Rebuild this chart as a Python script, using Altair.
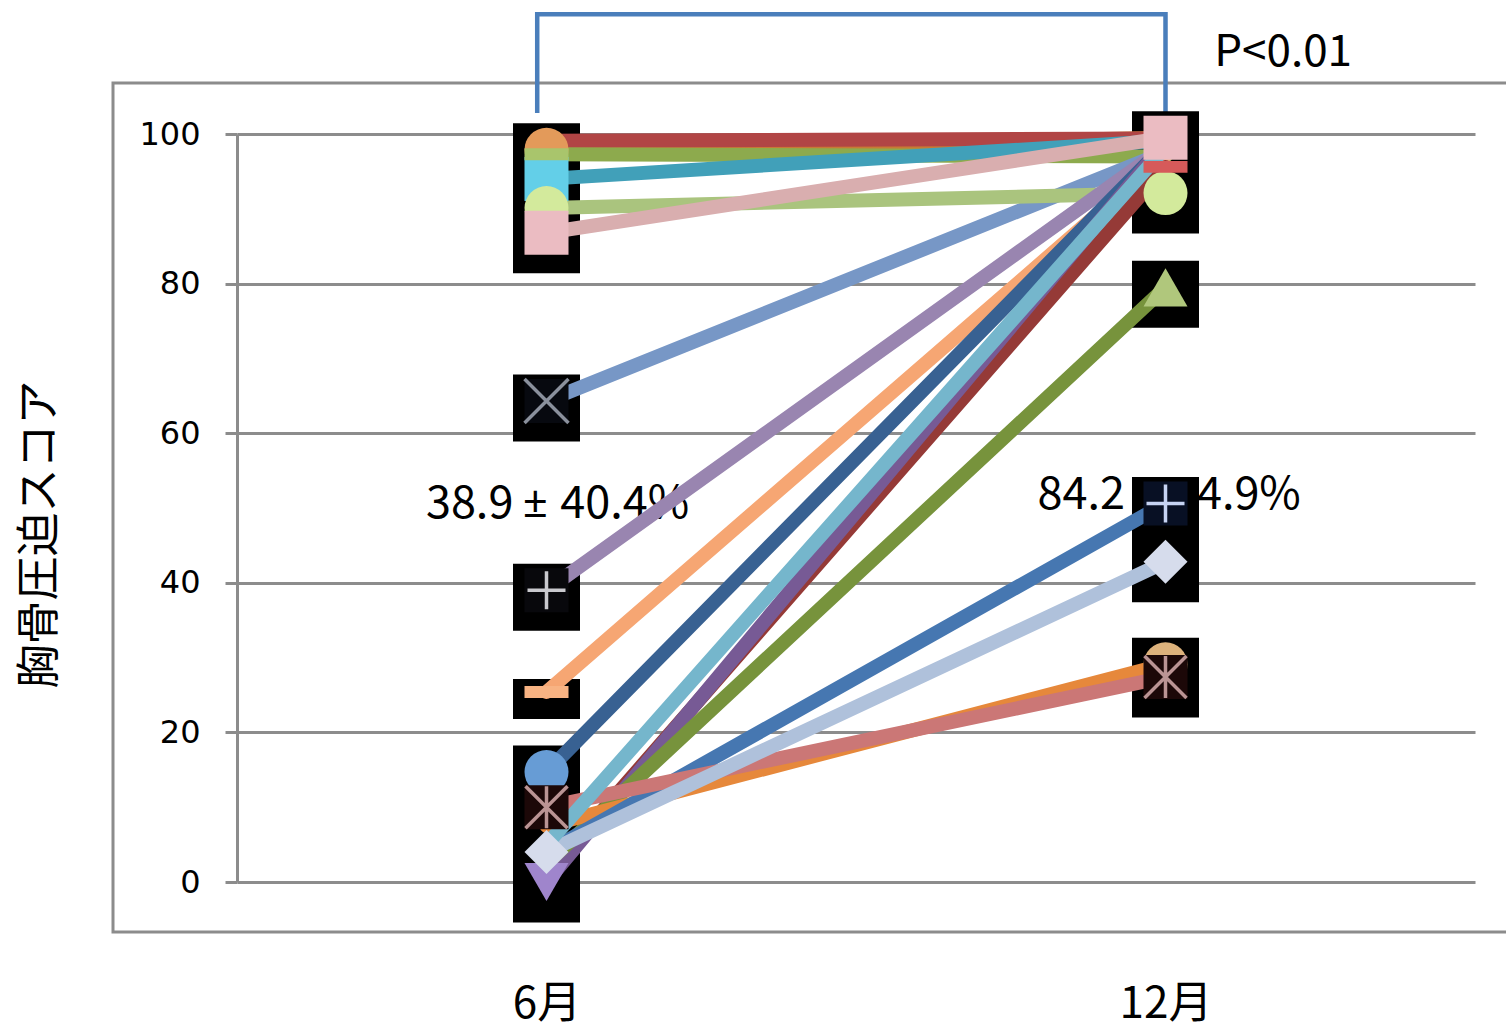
import json
import altair as alt
import pandas as pd

# Sternal compression score per trainee, at 6 and 12 months
patients = ["P%02d" % i for i in range(1, 19)]
score_jun = [97.9, 99.1, 97.3, 94.0, 90.1, 86.8, 64.3, 39.0, 25.4, 14.7,
             5.0, 1.0, 0.0, 2.5, 7.5, 4.0, 10.0, 4.0]
score_dec = [99.5, 99.4, 97.0, 99.1, 92.1, 99.5, 97.6, 98.3, 97.2, 98.6,
             98.2, 95.6, 98.9, 79.5, 29.1, 50.6, 27.4, 42.8]

month_labels = ["6月", "12月"]
stat_labels = ["38.9 ± 40.4%", "84.2 ± 14.9%"]
p_label = "P<0.01"
y_title = "胸骨圧迫スコア"
y_ticks = [0, 20, 40, 60, 80, 100]

# Series styling
line_colors = ["#C77A35", "#B14545", "#8DAA4D", "#41A0B9", "#AAC47E", "#D9AEAF",
               "#7797C6", "#9985B0", "#F6A673", "#386192", "#75B6CC", "#953A37",
               "#775A95", "#77933C", "#E6883B", "#4677B1", "#CB7776", "#AFC1DB"]
marker_fill = ["#E39A5A", "#C0504D", "#A9C56C", "#63CFE8", "#D3EA9C", "#EBBCC2",
               "#8A909C", "#C9C9CE", "#F8B383", "#679CD5", "#8FCBDD", "#D65A5A",
               "#9F85CC", "#B0C77C", "#DDB27C", "#C6D3F2", "#BA9494", "#D6DCEC"]
marker_jun = ["circle", "", "dash", "square", "circle", "square", "x", "plus", "dash",
              "circle", "", "", "tri-down", "", "", "", "asterisk", "diamond"]
marker_dec = ["", "", "", "", "circle", "square", "", "", "", "", "", "dash",
              "", "triangle", "circle", "plus", "asterisk", "diamond"]
line_order = [0, 1, 2, 3, 6, 4, 5, 7, 8, 9, 11, 12, 13, 14, 15, 16, 17, 10]
marker_order = [0, 3, 2, 4, 5, 6, 7, 8, 9, 14, 16, 13, 12, 17, 15, 11]

SHAPES = {
    "circle": ("circle", 44, False),
    "square": ("square", 44, False),
    "diamond": ("diamond", 44, False),
    "triangle": ("triangle-up", 44, False),
    "tri-down": ("triangle-down", 44, False),
    "dash": ("M-1,-0.27H1V0.27H-1Z", 44, False),
    "x": ("M-1,-1L1,1M-1,1L1,-1", 44, True),
    "plus": ("M-1,0L1,0M0,-1L0,1", 38, True),
    "asterisk": ("M-1,-1L1,1M-1,1L1,-1M0,-1L0,1", 42, True),
}
BACKING = {6: "#07090F", 7: "#08080C", 15: "#081024", 16: "#1C0808"}

# ---- tables ----
lines_df = pd.DataFrame({
    "patient": [patients[i] for i in line_order],
    "jun": [score_jun[i] for i in line_order],
    "dec": [score_dec[i] for i in line_order],
    "color": [line_colors[i] for i in line_order],
})

box_rows, sym_rows = [], []
z = 0
for i in marker_order:
    for pos, mk, val in ((0, marker_jun[i], score_jun[i]), (1, marker_dec[i], score_dec[i])):
        if not mk:
            continue
        shape, side, stroked = SHAPES[mk]
        box_shape = "M-1,-0.6H1V0.6H-1Z" if mk == "dash" else "square"
        box_rows.append({"pos": pos, "score": val, "shape": box_shape, "z": z})
        if stroked:
            sym_rows.append({"pos": pos, "score": val, "shape": "square",
                             "fill": BACKING.get(i, "#07090F"), "stroke": "transparent",
                             "sw": 0, "size": 44 * 44, "z": z})
            z += 1
            sym_rows.append({"pos": pos, "score": val, "shape": shape,
                             "fill": "transparent", "stroke": marker_fill[i],
                             "sw": 3.5, "size": side * side, "z": z})
        else:
            sym_rows.append({"pos": pos, "score": val, "shape": shape,
                             "fill": marker_fill[i], "stroke": "transparent",
                             "sw": 0, "size": side * side, "z": z})
        z += 1
box_df = pd.DataFrame(box_rows)
sym_df = pd.DataFrame(sym_rows)

GRAY = "#8C8C8C"
CJK = "Noto Sans CJK JP"
xscale = alt.Scale(domain=[-0.5, 1.5], nice=False, zero=False)
yscale = alt.Scale(domain=[0, 100], nice=False, zero=False)
label_expr = json.dumps(month_labels, ensure_ascii=False) + "[datum.value]"

x_axis = alt.Axis(values=[0, 1], labelExpr=label_expr, domain=False, ticks=False,
                  grid=False, labelFont=CJK, labelFontSize=44,
                  labelColor="#000000", labelPadding=100, title=None)
y_axis = alt.Axis(values=y_ticks, grid=True, gridColor=GRAY, gridWidth=3,
                  domainColor=GRAY, domainWidth=3, tickColor=GRAY, tickWidth=3,
                  tickSize=12, labelFont="DejaVu Sans", labelFontSize=32,
                  labelColor="#000000", labelPadding=25, title=y_title,
                  titleFont=CJK, titleFontSize=44,
                  titleFontWeight="normal", titleColor="#000000", titleAngle=270,
                  titleX=-197, titleY=400, titleAlign="center", titleBaseline="middle")


def X(field=None, datum=None):
    if datum is not None:
        return alt.X(datum=datum, type="quantitative", scale=xscale, axis=x_axis)
    return alt.X(field, type="quantitative", scale=xscale, axis=x_axis)


def Y(field=None, datum=None):
    if datum is not None:
        return alt.Y(datum=datum, type="quantitative", scale=yscale, axis=y_axis)
    return alt.Y(field, type="quantitative", scale=yscale, axis=y_axis)


one = pd.DataFrame({"k": [0]})

# plot-area border
frame = alt.Chart(one).mark_rect(filled=False, stroke=GRAY, strokeWidth=3).encode(
    x=alt.value(-124), x2=alt.value(1300), y=alt.value(-51), y2=alt.value(798))

# significance bracket
bracket_df = pd.DataFrame({"pos": [-0.015, -0.015, 1.0, 1.0],
                           "score": [102.8, 116.0, 116.0, 102.8], "k": [0, 1, 2, 3]})
bracket = alt.Chart(bracket_df).mark_line(color="#4A7EBB", strokeWidth=4.5,
                                          strokeJoin="miter").encode(
    x=X("pos"), y=Y("score"), order="k:Q")


def text_at(text, xv, yv, font, size, align, dx=0):
    return alt.Chart(one).mark_text(text=text, font=font, fontSize=size,
                                    color="#000000", align=align, dx=dx,
                                    baseline="middle").encode(
        x=X(datum=xv), y=Y(datum=yv))


def stat_note(label, xv, yv):
    # the ± sign is set in a Latin face so it keeps its narrow width
    left, right = [s.strip() for s in label.split("±")]
    return [text_at(left, xv, yv, CJK, 45, "right", dx=-22),
            text_at("±", xv, yv, "Noto Sans", 44, "center"),
            text_at(right, xv, yv, CJK, 45, "left", dx=25)]


notes = (stat_note(stat_labels[0], -0.018, 50.6)
         + stat_note(stat_labels[1], 0.970, 51.7)
         + [text_at(p_label, 1.19, 110.8, CJK, 44, "center")])

boxes = alt.Chart(box_df).mark_point(filled=True, opacity=1, fill="#000000",
                                     size=67 * 67, yOffset=7).encode(
    x=X("pos"), y=Y("score"),
    shape=alt.Shape("shape:N", scale=None),
    order=alt.Order("z:Q"))

lines = alt.Chart(lines_df).mark_rule(strokeWidth=14, strokeCap="round").transform_calculate(
    x0="0", x1="1").encode(
    x=X("x0"), x2="x1:Q",
    y=Y("jun"), y2="dec:Q",
    color=alt.Color("color:N", scale=None))

symbols = alt.Chart(sym_df).mark_point(filled=True, opacity=1).encode(
    x=X("pos"), y=Y("score"),
    shape=alt.Shape("shape:N", scale=None),
    fill=alt.Fill("fill:N", scale=None),
    stroke=alt.Stroke("stroke:N", scale=None),
    strokeWidth=alt.StrokeWidth("sw:Q", scale=None),
    size=alt.Size("size:Q", scale=None),
    order=alt.Order("z:Q"))

chart = alt.layer(frame, bracket, *notes, boxes, lines, symbols).properties(
    width=1238, height=748,
    autosize=alt.AutoSizeParams(type="none"),
    padding={"left": 237, "top": 134, "right": 31, "bottom": 151},
    background="#FFFFFF",
).configure_view(stroke=None)

chart.save("out.html", embed_options={"renderer": "svg", "actions": False})
